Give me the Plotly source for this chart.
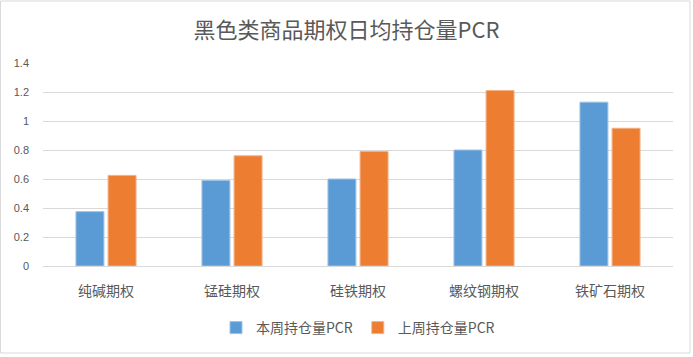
import plotly.graph_objects as go

categories = ["纯碱期权", "锰硅期权", "硅铁期权", "螺纹钢期权", "铁矿石期权"]
this_week = [0.375, 0.59, 0.60, 0.80, 1.13]
last_week = [0.625, 0.76, 0.79, 1.21, 0.95]
series_names = ["本周持仓量PCR", "上周持仓量PCR"]
y_ticks = [0, 0.2, 0.4, 0.6, 0.8, 1, 1.2, 1.4]
y_tick_labels = ["0", "0.2", "0.4", "0.6", "0.8", "1", "1.2", "1.4"]

W, H = 693, 357
ml, mr, mt, mb = 43, 20, 63, 91
pw, ph = W - ml - mr, H - mt - mb

fig = go.Figure()
fig.add_bar(x=categories, y=this_week, name=series_names[0],
            marker=dict(color="#5B9BD5", line=dict(color="#9DC3E6", width=1)))
fig.add_bar(x=categories, y=last_week, name=series_names[1],
            marker=dict(color="#ED7D31", line=dict(color="#F4B183", width=1)))

fig.update_layout(
    width=W, height=H,
    margin=dict(l=ml, r=mr, t=mt, b=mb),
    paper_bgcolor="white", plot_bgcolor="white",
    barmode="group", bargap=0.49, bargroupgap=0.13,
    title=dict(text="黑色类商品期权日均持仓量PCR", x=0.5, xanchor="center",
               y=1 - 30 / H, yanchor="middle",
               font=dict(family="Noto Sans CJK SC", size=22, color="#595959")),
    legend=dict(orientation="h", x=0.5, xanchor="center", y=-62 / ph, yanchor="middle",
                font=dict(family="Noto Sans CJK SC", size=14, color="#595959"),
                itemwidth=30, traceorder="normal"),
    showlegend=True,
)
fig.update_xaxes(showgrid=False, ticks="", showline=True, linecolor="#D9D9D9", linewidth=1,
                 ticklabelstandoff=12,
                 tickfont=dict(family="Noto Sans CJK SC", size=14, color="#595959"))
fig.update_yaxes(range=[0, 1.4], tickvals=y_ticks, ticktext=y_tick_labels,
                 showgrid=True, gridcolor="#D9D9D9", gridwidth=1, zeroline=False,
                 showline=False, ticks="", ticklabelstandoff=13,
                 tickfont=dict(family="Liberation Sans", size=11, color="#595959"))

# chart border
fig.add_shape(type="rect", xref="paper", yref="paper",
              x0=-(ml - 0.5) / pw, x1=1 + (mr - 3) / pw,
              y0=-(mb - 4) / ph, y1=1 + (mt - 1) / ph,
              line=dict(color="#D9D9D9", width=1), fillcolor="rgba(0,0,0,0)")

fig.write_html("out.html", config={"displayModeBar": False},
               post_script="document.body.style.margin='0';")
